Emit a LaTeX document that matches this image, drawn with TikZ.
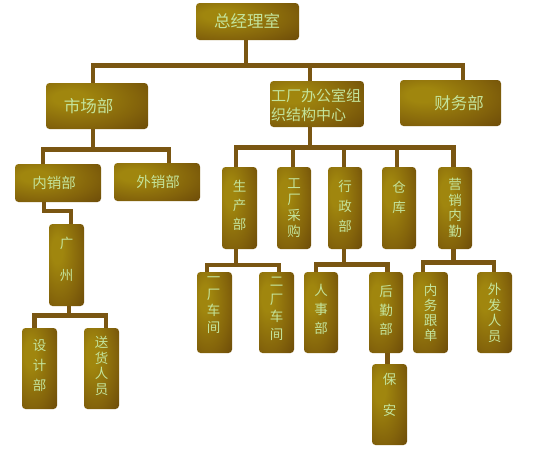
\documentclass[tikz,border=0pt]{standalone}
\usepackage{fontspec}
\newfontfamily\cjk{Noto Sans CJK SC}
\definecolor{bxhi}{RGB}{160,134,14}
\definecolor{bxmid}{RGB}{132,100,11}
\definecolor{bxlo}{RGB}{100,66,8}
\definecolor{linec}{RGB}{122,86,18}
\definecolor{txtc}{RGB}{196,228,156}
\pgfdeclareradialshading{boxglow}{\pgfpoint{-15bp}{10bp}}{color(0bp)=(bxhi); color(8bp)=(bxhi); color(30bp)=(bxmid); color(50bp)=(bxlo); color(90bp)=(bxlo)}
\tikzset{
  box/.style={rectangle, rounded corners=3.5pt, shading=boxglow, inner sep=0pt, draw=none},
  conn/.style={draw=linec, line width=4.5pt, line join=miter},
  htxt/.style={font=\cjk\fontsize{#1}{#1}\selectfont, text=txtc, inner sep=0pt},
  vtxt/.style={font=\cjk\fontsize{13.5}{#1}\selectfont, text=txtc, align=center, inner sep=0pt},
  htxtb/.style={font=\cjk\fontsize{15}{19}\selectfont, text=txtc, align=left, inner sep=0pt}
}
\begin{document}
\begin{tikzpicture}[x=1pt,y=-1pt]
\useasboundingbox (0,0) rectangle (538,451);
% ---------- boxes ----------
\node[box, minimum width=103pt, minimum height=37pt] (zj) at (247.5,21.5) {};
\node[box, minimum width=102pt, minimum height=46pt] (sc) at (97,106) {};
\node[box, minimum width=94pt, minimum height=46pt] (gc) at (317,104) {};
\node[box, minimum width=101pt, minimum height=46pt] (cw) at (450.5,103) {};
\node[box, minimum width=86pt, minimum height=38pt] (nx) at (58,183) {};
\node[box, minimum width=86pt, minimum height=38pt] (wx) at (157,182) {};
\node[box, minimum width=35pt, minimum height=82pt] (gz) at (66.5,265) {};
\node[box, minimum width=35pt, minimum height=81pt] (sj) at (39.5,368.5) {};
\node[box, minimum width=35pt, minimum height=81pt] (sh) at (101.5,368.5) {};
\node[box, minimum width=35pt, minimum height=82pt] (scb) at (239.5,208) {};
\node[box, minimum width=34pt, minimum height=82pt] (cg) at (294,208) {};
\node[box, minimum width=34pt, minimum height=82pt] (xz) at (345,208) {};
\node[box, minimum width=34pt, minimum height=82pt] (ck) at (399,208) {};
\node[box, minimum width=34pt, minimum height=82pt] (yx) at (455,208) {};
\node[box, minimum width=35pt, minimum height=81pt] (yc) at (214.5,312.5) {};
\node[box, minimum width=35pt, minimum height=81pt] (ec) at (276.5,312.5) {};
\node[box, minimum width=34pt, minimum height=81pt] (rs) at (321,312.5) {};
\node[box, minimum width=34pt, minimum height=81pt] (hq) at (386,312.5) {};
\node[box, minimum width=35pt, minimum height=81pt] (ba) at (389.5,404.5) {};
\node[box, minimum width=35pt, minimum height=81pt] (nw) at (430.5,312.5) {};
\node[box, minimum width=35pt, minimum height=81pt] (wf) at (494.5,312.5) {};
% ---------- texts ----------
\node[htxt=16.5] (zj-t) at (247,21.5) {总经理室};
\node[htxt=16.5] (sc-t) at (88.5,106) {市场部};
\node[htxtb] (gc-t) at (316,105) {工厂办公室组\\织结构中心};
\node[htxt=16.5] (cw-t) at (459,103) {财务部};
\node[htxt=14.5] (nx-t) at (54,183) {内销部};
\node[htxt=14.5] (wx-t) at (158,182) {外销部};
\node[vtxt=32] (gz-t) at (66.5,259) {广\\州};
\node[vtxt=20] (sj-t) at (39.5,365) {设\\计\\部};
\node[vtxt=15.5] (sh-t) at (101.5,366) {送\\货\\人\\员};
\node[vtxt=19] (scb-t) at (239.5,205.5) {生\\产\\部};
\node[vtxt=16] (cg-t) at (294,208) {工\\厂\\采\\购};
\node[vtxt=20] (xz-t) at (345,206.5) {行\\政\\部};
\node[vtxt=20] (ck-t) at (399,197.5) {仓\\库};
\node[vtxt=15.5] (yx-t) at (455,208) {营\\销\\内\\勤};
\node[vtxt=16.5] (yc-t) at (213.5,305) {一\\厂\\车\\间};
\node[vtxt=17.5] (ec-t) at (276.5,309) {二\\厂\\车\\间};
\node[vtxt=19] (rs-t) at (321,309.5) {人\\事\\部};
\node[vtxt=19] (hq-t) at (386,310) {后\\勤\\部};
\node[vtxt=31] (ba-t) at (389.5,394.5) {保\\安};
\node[vtxt=15] (nw-t) at (430.5,312.5) {内\\务\\跟\\单};
\node[vtxt=15.5] (wf-t) at (494.5,313) {外\\发\\人\\员};
% ---------- junctions ----------
\coordinate (c0) at (246,65.5);
\coordinate (c1) at (93,65.5);
\coordinate (c2) at (310,65.5);
\coordinate (c3) at (463,65.5);
\coordinate (m0) at (93,149.5);
\coordinate (m1) at (43,149.5);
\coordinate (m2) at (169,149.5);
\coordinate (n1) at (44,211);
\coordinate (n2) at (71,211);
\coordinate (g0) at (69,315.5);
\coordinate (g1) at (34.5,315.5);
\coordinate (g2) at (106,315.5);
\coordinate (f0) at (310,147.5);
\coordinate (f1) at (236,147.5);
\coordinate (f2) at (293,147.5);
\coordinate (f3) at (344,147.5);
\coordinate (f4) at (397,147.5);
\coordinate (f5) at (453.5,147.5);
\coordinate (p0) at (236,265);
\coordinate (p1) at (207,265);
\coordinate (p2) at (279,265);
\coordinate (x0) at (344,264.5);
\coordinate (x1) at (316,264.5);
\coordinate (x2) at (387.5,264.5);
\coordinate (y0) at (453.5,262.5);
\coordinate (y1) at (423,262.5);
\coordinate (y2) at (494,262.5);
% ---------- connectors ----------
\draw[conn] (zj.south -| c0) -- (c0);
\draw[conn] (sc.north -| c1) -- (c1) -- (c3) -- (cw.north -| c3);
\draw[conn] (gc.north -| c2) -- (c2);
\draw[conn] (sc.south -| m0) -- (m0);
\draw[conn] (nx.north -| m1) -- (m1) -- (m2) -- (wx.north -| m2);
\draw[conn] (nx.south -| n1) -- (n1) -- (n2) -- (gz.north -| n2);
\draw[conn] (gz.south -| g0) -- (g0);
\draw[conn] (sj.north -| g1) -- (g1) -- (g2) -- (sh.north -| g2);
\draw[conn] (gc.south -| f0) -- (f0);
\draw[conn] (scb.north -| f1) -- (f1) -- (f5) -- (yx.north -| f5);
\draw[conn] (cg.north -| f2) -- (f2);
\draw[conn] (xz.north -| f3) -- (f3);
\draw[conn] (ck.north -| f4) -- (f4);
\draw[conn] (scb.south -| p0) -- (p0);
\draw[conn] (yc.north -| p1) -- (p1) -- (p2) -- (ec.north -| p2);
\draw[conn] (xz.south -| x0) -- (x0);
\draw[conn] (rs.north -| x1) -- (x1) -- (x2) -- (hq.north -| x2);
\draw[conn] (hq.south -| x2) -- (ba.north -| x2);
\draw[conn] (yx.south -| y0) -- (y0);
\draw[conn] (nw.north -| y1) -- (y1) -- (y2) -- (wf.north -| y2);
\end{tikzpicture}
\end{document}
